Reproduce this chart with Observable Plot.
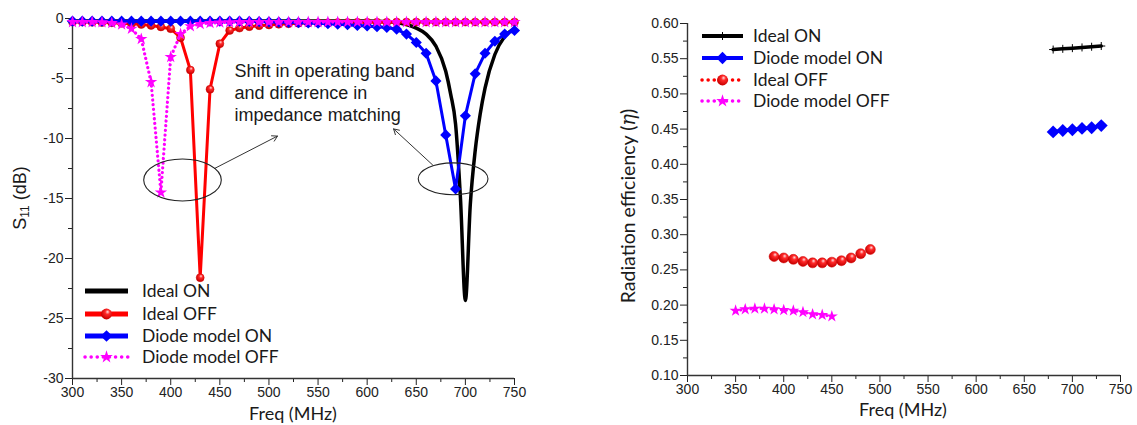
<!DOCTYPE html>
<html><head><meta charset="utf-8">
<script src="https://cdn.jsdelivr.net/npm/d3@7"></script>
<script src="https://cdn.jsdelivr.net/npm/@observablehq/plot@0.6"></script>
<style>
body{margin:0;background:#fff;}
#wrap{position:relative;width:1137px;height:425px;overflow:hidden;background:#fff;}
#wrap svg{position:absolute;top:0;}
</style></head><body><div id="wrap"></div>
<script>
// ---------- Left chart: S11 (dB) ----------
const freq = [300,310,320,330,340,350,360,370,380,390,400,410,420,430,440,450,460,470,480,490,500,510,520,530,540,550,560,570,580,590,600,610,620,630,640,650,660,670,680,690,700,710,720,730,740,750];
const idealOffS11 = [-0.30,-0.30,-0.32,-0.34,-0.36,-0.40,-0.44,-0.50,-0.58,-0.70,-0.85,-1.6,-4.3,-21.6,-5.9,-2.1,-1.0,-0.80,-0.68,-0.60,-0.54,-0.48,-0.44,-0.40,-0.38,-0.36,-0.35,-0.34,-0.33,-0.32,-0.32,-0.31,-0.31,-0.30,-0.30,-0.30,-0.30,-0.30,-0.30,-0.30,-0.30,-0.30,-0.30,-0.30,-0.30,-0.30];
const diodeOnS11 = [-0.22,-0.22,-0.22,-0.22,-0.22,-0.22,-0.22,-0.22,-0.22,-0.22,-0.22,-0.22,-0.22,-0.22,-0.22,-0.22,-0.22,-0.22,-0.24,-0.26,-0.28,-0.30,-0.32,-0.34,-0.37,-0.40,-0.43,-0.47,-0.52,-0.58,-0.63,-0.68,-0.75,-0.9,-1.3,-2.0,-2.9,-5.2,-9.7,-14.2,-8.1,-4.6,-2.9,-1.9,-1.3,-1.0];
const diodeOffS11 = [-0.30,-0.30,-0.30,-0.32,-0.38,-0.50,-0.86,-1.7,-5.3,-14.5,-3.2,-1.3,-0.65,-0.45,-0.38,-0.34,-0.32,-0.30,-0.30,-0.30,-0.30,-0.30,-0.30,-0.30,-0.30,-0.30,-0.30,-0.30,-0.30,-0.30,-0.30,-0.30,-0.30,-0.30,-0.30,-0.30,-0.30,-0.30,-0.30,-0.30,-0.30,-0.30,-0.30,-0.30,-0.30,-0.30];
const idealOnFreq = [300,320,340,360,380,400,420,440,460,480,500,520,540,560,580,600,610,620,630,640,650,660,670,680,685,690,695,700,705,710,715,720,730,740,750];
const idealOnS11 = [-0.2,-0.2,-0.2,-0.2,-0.2,-0.2,-0.2,-0.2,-0.2,-0.2,-0.2,-0.2,-0.2,-0.2,-0.2,-0.2,-0.22,-0.26,-0.33,-0.5,-0.8,-1.3,-2.3,-4.4,-6.3,-8.8,-15.0,-23.5,-15.5,-11.0,-8.0,-5.8,-3.0,-1.5,-0.85];
const xTicks = [300,350,400,450,500,550,600,650,700,750];
const xMinor = [325,375,425,475,525,575,625,675,725];
const s11Ticks = [-30,-25,-20,-15,-10,-5,0];
const s11Minor = [-27.5,-22.5,-17.5,-12.5,-7.5,-2.5];
const leftLegend = ["Ideal ON","Ideal OFF","Diode model ON","Diode model OFF"];
const noteText = ["Shift in operating band\nand difference in\nimpedance matching"];
const noteAt = [{x: 465, y: -6.15}];
const ellipses = [{cx: 412.5, cy: -13.5, rx: 39.5, ry: 1.75}, {cx: 688, cy: -13.4, rx: 35.5, ry: 1.33}];
const arrows = [{x1: 444.6, y1: -12.5, x2: 508.7, y2: -9.8}, {x1: 666.6, y1: -12.2, x2: 626.9, y2: -9.2}];

// ---------- Right chart: radiation efficiency ----------
const effOnFreq = [680,690,700,710,720,730];
const idealOnEff = [0.563,0.564,0.565,0.566,0.567,0.568];
const diodeOnEff = [0.446,0.448,0.449,0.451,0.452,0.455];
const idealOffFreq = [390,400,410,420,430,440,450,460,470,480,490];
const idealOffEff = [0.269,0.267,0.265,0.262,0.260,0.260,0.261,0.263,0.267,0.273,0.279];
const diodeOffFreq = [350,360,370,380,390,400,410,420,430,440,450];
const diodeOffEff = [0.192,0.194,0.195,0.195,0.194,0.193,0.192,0.190,0.187,0.186,0.184];
const effTicks = [0.10,0.15,0.20,0.25,0.30,0.35,0.40,0.45,0.50,0.55,0.60];
const effMinor = [0.125,0.175,0.225,0.275,0.325,0.375,0.425,0.475,0.525,0.575];
const rightLegend = ["Ideal ON","Diode model ON","Ideal OFF","Diode model OFF"];

const BLACK = "#000000", RED = "#ff0000", BLUE = "#0000ff", MAG = "#ff00ff";
const tickFont = "Liberation Sans, Arial, sans-serif";
const titleFont = "Lato, 'Open Sans', sans-serif";
const rows = (xs, ys) => xs.map((x, i) => ({x, y: ys[i]}));

const wrap = document.getElementById("wrap");

function addDefs(svg, id) {
  const defs = d3.select(svg).append("defs");
  const g = defs.append("radialGradient").attr("id", id).attr("cx", "58%").attr("cy", "38%").attr("r", "60%").attr("fx", "60%").attr("fy", "30%");
  g.append("stop").attr("offset", "0%").attr("stop-color", "#ffe0e0");
  g.append("stop").attr("offset", "35%").attr("stop-color", "#ff2a2a");
  g.append("stop").attr("offset", "100%").attr("stop-color", "#c80000");
}

function axisMarks(xT, xM, yT, yM, yFmt, yMin) {
  return [
    Plot.axisX({ticks: xT, tickSize: 7, tickPadding: 2, fontSize: 14, label: null, tickFormat: d => String(d)}),
    Plot.axisX({ticks: xM, tickSize: 4, text: null, label: null}),
    Plot.axisY({ticks: yT, tickSize: 7, tickPadding: 2, fontSize: 14, label: null, tickFormat: yFmt}),
    Plot.axisY({ticks: yM, tickSize: 4, text: null, label: null}),
    Plot.ruleX([xT[0]], {stroke: "#333", strokeWidth: 1.4}),
    Plot.ruleY([yMin], {stroke: "#333", strokeWidth: 1.4})
  ];
}

function drawLegend(svg, items, x0, x1, tx, ys, fs) {
  const g = d3.select(svg).append("g").attr("text-anchor", "start");
  items.forEach((it, i) => {
    const y = ys[i];
    g.append("line").attr("x1", x0).attr("x2", x1).attr("y1", y).attr("y2", y)
      .attr("stroke", it.color).attr("stroke-width", it.w)
      .attr("stroke-dasharray", it.dash || null).attr("stroke-linecap", it.dash ? "round" : "butt");
    if (it.symbol) {
      g.append("path").attr("d", d3.symbol(it.symbol, it.size)())
        .attr("transform", `translate(${(x0 + x1) / 2},${y})`)
        .attr("fill", it.fill || "none").attr("stroke", it.stroke || "none").attr("stroke-width", it.sw || 0);
    }
    g.append("text").attr("x", tx).attr("y", y).attr("dy", "0.35em").attr("text-anchor", "start").text(it.label)
      .attr("fill", "#1a1a1a").style("font-family", titleFont).style("font-size", fs + "px");
  });
}

// ---------- build left ----------
const left = Plot.plot({
  width: 560, height: 425,
  marginLeft: 72, marginRight: 46, marginTop: 18, marginBottom: 47,
  x: {domain: [300, 750]},
  y: {domain: [-30, 0]},
  style: {fontFamily: tickFont, fontSize: "14px", color: "#222", background: "transparent", overflow: "visible"},
  marks: [
    ...axisMarks(xTicks, xMinor, s11Ticks, s11Minor, d => String(d), -30),
    Plot.line(rows(idealOnFreq, idealOnS11), {x: "x", y: "y", stroke: BLACK, strokeWidth: 3.5, curve: "monotone-x"}),
    Plot.line(rows(freq, idealOffS11), {x: "x", y: "y", stroke: RED, strokeWidth: 3}),
    Plot.dot(rows(freq, idealOffS11), {x: "x", y: "y", r: 4, fill: "url(#gradRedL)", stroke: "#d00000", strokeWidth: 0.5}),
    Plot.line(rows(freq, diodeOnS11), {x: "x", y: "y", stroke: BLUE, strokeWidth: 3}),
    Plot.dot(rows(freq, diodeOnS11), {x: "x", y: "y", r: 5, symbol: "diamond2", fill: BLUE, stroke: "none"}),
    Plot.line(rows(freq, diodeOffS11), {x: "x", y: "y", stroke: MAG, strokeWidth: 3.2, strokeDasharray: "0.1 4.6", strokeLinecap: "round"}),
    Plot.dot(rows(freq, diodeOffS11), {x: "x", y: "y", r: 3.9, symbol: "star", fill: MAG, stroke: "none"}),
    Plot.arrow(arrows, {x1: "x1", y1: "y1", x2: "x2", y2: "y2", stroke: "#333", strokeWidth: 1, headLength: 9, bend: 0}),
    Plot.text(noteText, {x: noteAt.map(d => d.x), y: noteAt.map(d => d.y), text: d => d, textAnchor: "start", lineAnchor: "middle", lineHeight: 1.22, fontSize: 18, fill: "#1a1a1a", fontFamily: tickFont})
  ]
});
left.style.left = "0px";
wrap.appendChild(left);
addDefs(left, "gradRedL");
{
  const sx = left.scale("x"), sy = left.scale("y");
  const s = d3.select(left);
  ellipses.forEach(e => {
    const cx = sx.apply(e.cx), cy = sy.apply(e.cy);
    s.append("ellipse").attr("cx", cx).attr("cy", cy)
      .attr("rx", Math.abs(sx.apply(e.cx + e.rx) - cx)).attr("ry", Math.abs(sy.apply(e.cy + e.ry) - cy))
      .attr("fill", "none").attr("stroke", "#222").attr("stroke-width", 1.1);
  });
  const yt = s.append("text").attr("transform", "translate(20,198) rotate(-90)").attr("text-anchor", "middle")
    .attr("dy", "0.35em").attr("fill", "#1a1a1a").style("font-family", tickFont).style("font-size", "18px");
  yt.append("tspan").text("S");
  yt.append("tspan").text("11").attr("baseline-shift", "-25%").style("font-size", "12px");
  yt.append("tspan").text(" (dB)");
  s.append("text").attr("x", 293).attr("y", 414).attr("dy", "0.35em").attr("text-anchor", "middle")
    .attr("fill", "#1a1a1a").style("font-family", titleFont).style("font-size", "18px").text("Freq (MHz)");
  drawLegend(left, [
    {label: leftLegend[0], color: BLACK, w: 5},
    {label: leftLegend[1], color: RED, w: 5, symbol: d3.symbolCircle, size: Math.PI * 30, fill: "url(#gradRedL)"},
    {label: leftLegend[2], color: BLUE, w: 5, symbol: d3.symbolDiamond2, size: Math.PI * 28, fill: BLUE},
    {label: leftLegend[3], color: MAG, w: 3.5, dash: "0.1 6", symbol: d3.symbolStar, size: Math.PI * 16, fill: MAG}
  ], 85, 128, 142, [291, 314, 336, 357], 17.5);
}

// ---------- build right ----------
const right = Plot.plot({
  width: 577, height: 425,
  marginLeft: 127, marginRight: 17, marginTop: 23, marginBottom: 50,
  x: {domain: [300, 750]},
  y: {domain: [0.10, 0.60]},
  style: {fontFamily: tickFont, fontSize: "14px", color: "#222", background: "transparent", overflow: "visible"},
  marks: [
    ...axisMarks(xTicks, xMinor, effTicks, effMinor, d3.format(".2f"), 0.10),
    Plot.line(rows(effOnFreq, idealOnEff), {x: "x", y: "y", stroke: BLACK, strokeWidth: 3.5}),
    Plot.dot(rows(effOnFreq, idealOnEff), {x: "x", y: "y", r: 2.7, symbol: "plus", stroke: BLACK, strokeWidth: 1}),
    Plot.line(rows(effOnFreq, diodeOnEff), {x: "x", y: "y", stroke: BLUE, strokeWidth: 3.5}),
    Plot.dot(rows(effOnFreq, diodeOnEff), {x: "x", y: "y", r: 5.8, symbol: "diamond2", fill: BLUE, stroke: "none"}),
    Plot.line(rows(idealOffFreq, idealOffEff), {x: "x", y: "y", stroke: RED, strokeWidth: 3, strokeDasharray: "0.1 5", strokeLinecap: "round"}),
    Plot.dot(rows(idealOffFreq, idealOffEff), {x: "x", y: "y", r: 5, fill: "url(#gradRedR)", stroke: "#d00000", strokeWidth: 0.5}),
    Plot.line(rows(diodeOffFreq, diodeOffEff), {x: "x", y: "y", stroke: MAG, strokeWidth: 3, strokeDasharray: "0.1 5", strokeLinecap: "round"}),
    Plot.dot(rows(diodeOffFreq, diodeOffEff), {x: "x", y: "y", r: 3.8, symbol: "star", fill: MAG, stroke: "none"})
  ]
});
right.style.left = "560px";
wrap.appendChild(right);
addDefs(right, "gradRedR");
{
  const s = d3.select(right);
  const yt = s.append("text").attr("transform", "translate(68,206) rotate(-90)").attr("text-anchor", "middle")
    .attr("dy", "0.35em").attr("fill", "#1a1a1a").style("font-family", titleFont).style("font-size", "19.5px");
  yt.append("tspan").text("Radiation efficiency (");
  yt.append("tspan").text("η").style("font-style", "italic").style("font-family", "DejaVu Serif, serif");
  yt.append("tspan").text(")");
  s.append("text").attr("x", 343).attr("y", 410).attr("dy", "0.35em").attr("text-anchor", "middle")
    .attr("fill", "#1a1a1a").style("font-family", titleFont).style("font-size", "18px").text("Freq (MHz)");
  drawLegend(right, [
    {label: rightLegend[0], color: BLACK, w: 4, symbol: d3.symbolPlus, size: 23, stroke: BLACK, sw: 1},
    {label: rightLegend[1], color: BLUE, w: 4, symbol: d3.symbolDiamond2, size: Math.PI * 31, fill: BLUE},
    {label: rightLegend[2], color: RED, w: 3.5, dash: "0.1 6", symbol: d3.symbolCircle, size: Math.PI * 30, fill: "url(#gradRedR)"},
    {label: rightLegend[3], color: MAG, w: 3.5, dash: "0.1 6", symbol: d3.symbolStar, size: Math.PI * 16, fill: MAG}
  ], 142, 183, 193, [36, 58, 80, 101], 17.5);
}
</script></body></html>
